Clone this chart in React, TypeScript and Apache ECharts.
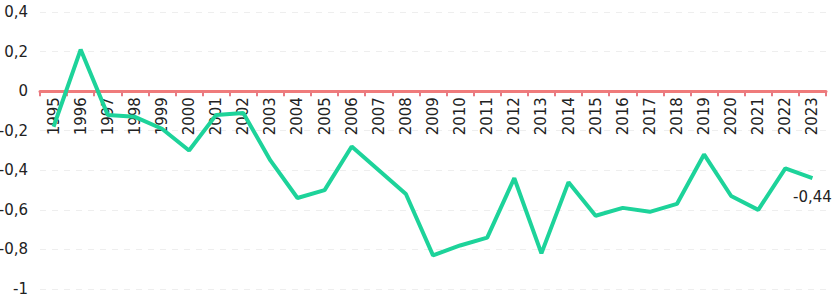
import React, { useEffect, useRef } from "react";
import * as echarts from "echarts";

const years: string[] = [
  "1995", "1996", "1997", "1998", "1999", "2000", "2001", "2002", "2003", "2004",
  "2005", "2006", "2007", "2008", "2009", "2010", "2011", "2012", "2013", "2014",
  "2015", "2016", "2017", "2018", "2019", "2020", "2021", "2022", "2023",
];
const values: number[] = [
  -0.18, 0.21, -0.12, -0.13, -0.19, -0.3, -0.12, -0.11, -0.35, -0.54,
  -0.5, -0.28, -0.4, -0.52, -0.83, -0.78, -0.74, -0.44, -0.82, -0.46,
  -0.63, -0.59, -0.61, -0.57, -0.32, -0.53, -0.6, -0.39, -0.44,
];
const yMin = -1;
const yMax = 0.4;
const yStep = 0.2;

const fmt = (v: number) => String(Math.round(v * 100) / 100).replace(".", ",");

const GRID_TOP = 12;
const GRID_BOTTOM = 8;
const H = 297;

export default function App() {
  const ref = useRef<HTMLDivElement>(null);
  useEffect(() => {
    if (!ref.current) return;
    const chart = echarts.init(ref.current, undefined, { renderer: "svg" });
    const font = "DejaVu Sans";
    const gridH = H - GRID_TOP - GRID_BOTTOM;
    const zeroOffset = (gridH * (0 - yMin)) / (yMax - yMin);
    chart.setOption({
      animation: false,
      grid: { left: 40, right: 6, top: GRID_TOP, bottom: GRID_BOTTOM, containLabel: false, outerBoundsMode: "none" },
      xAxis: {
        type: "category",
        data: years,
        boundaryGap: true,
        offset: -zeroOffset,
        axisLine: { onZero: false, lineStyle: { color: "#ef7b7b", width: 3 } },
        axisTick: { show: true, length: 5, lineStyle: { color: "#e87a82", width: 2 } },
        axisLabel: {
          rotate: 90,
          interval: 0,
          margin: 6,
          color: "#222",
          fontFamily: font,
          fontSize: 15,
        },
        splitLine: { show: false },
      },
      yAxis: {
        type: "value",
        min: yMin,
        max: yMax,
        interval: yStep,
        axisLine: { show: false },
        axisTick: { show: false },
        axisLabel: {
          color: "#222",
          fontFamily: font,
          fontSize: 15,
          margin: 12,
          formatter: (v: number) => fmt(v),
        },
        splitLine: { show: true, lineStyle: { color: "#eeeeee", type: [6, 6], width: 1 } },
      },
      series: [
        {
          type: "line",
          data: values.map((v, i) =>
            i === values.length - 1
              ? {
                  value: v,
                  label: {
                    show: true,
                    position: "bottom",
                    distance: 11,
                    color: "#222",
                    fontFamily: font,
                    fontSize: 15,
                    formatter: () => fmt(v),
                  },
                }
              : v
          ),
          symbol: "circle",
          symbolSize: 0,
          showSymbol: true,
          lineStyle: { color: "#1dd39a", width: 4 },
          itemStyle: { color: "#1dd39a" },
          labelLayout: { hideOverlap: false },
          z: 1,
        },
      ],
    });
    return () => chart.dispose();
  }, []);
  return <div ref={ref} style={{ width: 832, height: 297, position: "absolute", left: 0, top: 0 }} />;
}
